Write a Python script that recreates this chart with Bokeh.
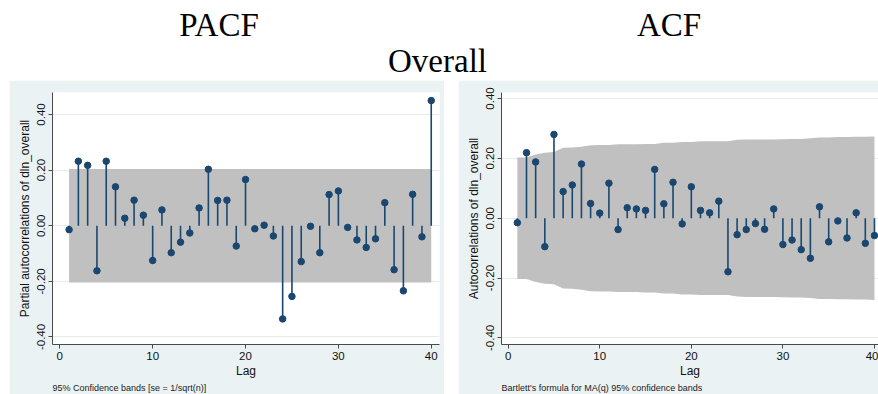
from bokeh.plotting import figure
from bokeh.layouts import column, row
from bokeh.models import (Label, Title, FixedTicker, PrintfTickFormatter, Range1d, Spacer,
                          ColumnDataSource)
from bokeh.embed import file_html
from bokeh.resources import INLINE

# ---------------- data ----------------
lags = list(range(1, 41))
pacf = [-0.014, 0.232, 0.217, -0.162, 0.232, 0.140, 0.027, 0.092, 0.038, -0.125,
        0.057, -0.097, -0.059, -0.026, 0.064, 0.203, 0.091, 0.092, -0.073, 0.166,
        -0.011, 0.002, -0.037, -0.335, -0.254, -0.129, -0.002, -0.097, 0.112, 0.125,
        -0.006, -0.051, -0.078, -0.047, 0.083, -0.158, -0.234, 0.113, -0.040, 0.450]
acf = [-0.015, 0.219, 0.188, -0.095, 0.280, 0.089, 0.111, 0.181, 0.049, 0.017,
       0.117, -0.038, 0.035, 0.031, 0.026, 0.163, 0.048, 0.120, -0.019, 0.105,
       0.026, 0.018, 0.057, -0.179, -0.055, -0.038, -0.018, -0.037, 0.031, -0.088,
       -0.073, -0.105, -0.134, 0.038, -0.079, -0.009, -0.066, 0.018, -0.084, -0.058]
pacf_band = 0.204
acf_band = [0.203, 0.203, 0.213, 0.219, 0.221, 0.235, 0.236, 0.239, 0.244, 0.245,
            0.245, 0.247, 0.247, 0.247, 0.248, 0.248, 0.252, 0.252, 0.255, 0.255,
            0.257, 0.257, 0.257, 0.257, 0.262, 0.263, 0.263, 0.263, 0.263, 0.264,
            0.265, 0.265, 0.267, 0.270, 0.270, 0.271, 0.271, 0.272, 0.272, 0.273]
y_ticks = [-0.4, -0.2, 0.0, 0.2, 0.4]
x_ticks = [0, 10, 20, 30, 40]

BG = "#EAF2F3"
BAND = "#C0C0C0"
NAVY = "#1A476F"
AXC = "#4a4a4a"
SANS = "Liberation Sans"
SERIF = "Liberation Serif"


def panel(width, height, xr, yr, borders, ylabel, foot):
    left, right, top, bottom = borders
    p = figure(width=width, height=height, output_backend="svg", toolbar_location=None,
               x_range=Range1d(*xr), y_range=Range1d(*yr), title=None,
               min_border_left=left, min_border_right=right,
               min_border_top=top, min_border_bottom=bottom)
    p.background_fill_color = "white"
    p.border_fill_color = BG
    p.outline_line_color = None
    p.xgrid.grid_line_color = None
    p.ygrid.ticker = FixedTicker(ticks=y_ticks)
    p.ygrid.grid_line_color = "#E2EBEE"
    p.ygrid.grid_line_width = 1

    p.yaxis.ticker = FixedTicker(ticks=y_ticks)
    p.yaxis.formatter = PrintfTickFormatter(format="%.2f")
    p.yaxis.major_label_orientation = "parallel"
    p.yaxis.axis_label = ylabel
    p.xaxis.ticker = FixedTicker(ticks=x_ticks)
    p.xaxis.axis_label = "Lag"
    for ax in (p.xaxis, p.yaxis):
        ax.axis_line_color = AXC
        ax.major_tick_line_color = AXC
        ax.major_tick_out = 4
        ax.major_tick_in = 0
        ax.minor_tick_line_color = None
        ax.major_label_text_font = SANS
        ax.major_label_text_font_size = "11.5px"
        ax.major_label_text_color = "#111111"
        ax.axis_label_text_font = SANS
        ax.axis_label_text_font_size = "12px"
        ax.axis_label_text_font_style = "normal"
        ax.axis_label_text_color = "#111111"
    p.xaxis.major_label_standoff = 3
    p.xaxis.axis_label_standoff = 1
    p.yaxis.major_label_standoff = 3
    p.yaxis.axis_label_standoff = 3

    p.add_layout(Title(text=foot, align="left", text_font=SANS, text_font_size="9px",
                       text_font_style="normal", text_color="#222222",
                       standoff=0, offset=0), "below")
    return p


# ---------------- PACF panel ----------------
pl = panel(435, 314, (-0.786, 40.89), (-0.427, 0.479), (43, 5, 10, 48),
           "Partial autocorrelations of dln_overall",
           "95% Confidence bands [se = 1/sqrt(n)]")
pl.varea(x=[lags[0], lags[-1]], y1=-pacf_band, y2=pacf_band, fill_color=BAND)
src_l = ColumnDataSource(dict(x=lags, y=pacf))
pl.segment(x0="x", y0=0, x1="x", y1="y", source=src_l, line_color=NAVY, line_width=1.6)
pl.scatter(x="x", y="y", source=src_l, size=6.5, fill_color=NAVY, line_color=NAVY)

# ---------------- ACF panel ----------------
pr = panel(420, 314, (-0.73, 40.44), (-0.422, 0.420), (43, 0, 12, 50),
           "Autocorrelations of dln_overall",
           "Bartlett's formula for MA(q) 95% confidence bands")
pr.varea(x=lags, y1=[-b for b in acf_band], y2=acf_band, fill_color=BAND)
src_r = ColumnDataSource(dict(x=lags, y=acf))
pr.segment(x0="x", y0=0, x1="x", y1="y", source=src_r, line_color=NAVY, line_width=1.6)
pr.scatter(x="x", y="y", source=src_r, size=6.5, fill_color=NAVY, line_color=NAVY)

# ---------------- titles ----------------
pt = figure(width=878, height=80, output_backend="svg", toolbar_location=None,
            x_range=Range1d(0, 878), y_range=Range1d(0, 80), title=None,
            min_border=0, min_border_left=0, min_border_right=0,
            min_border_top=0, min_border_bottom=0)
pt.axis.visible = False
pt.grid.visible = False
pt.outline_line_color = None
pt.background_fill_color = "white"
pt.border_fill_color = "white"
for txt, x, y in [("PACF", 218.5, 55.3), ("ACF", 668.5, 55.3), ("Overall", 437, 19.3)]:
    pt.add_layout(Label(x=x, y=y, text=txt, text_font=SERIF, text_font_size="33px",
                        text_color="black", text_align="center",
                        text_baseline="alphabetic"))

layout = column(pt, row(Spacer(width=9, height=314), pl, Spacer(width=14, height=314), pr))
open("out.html", "w").write(file_html(layout, INLINE))
